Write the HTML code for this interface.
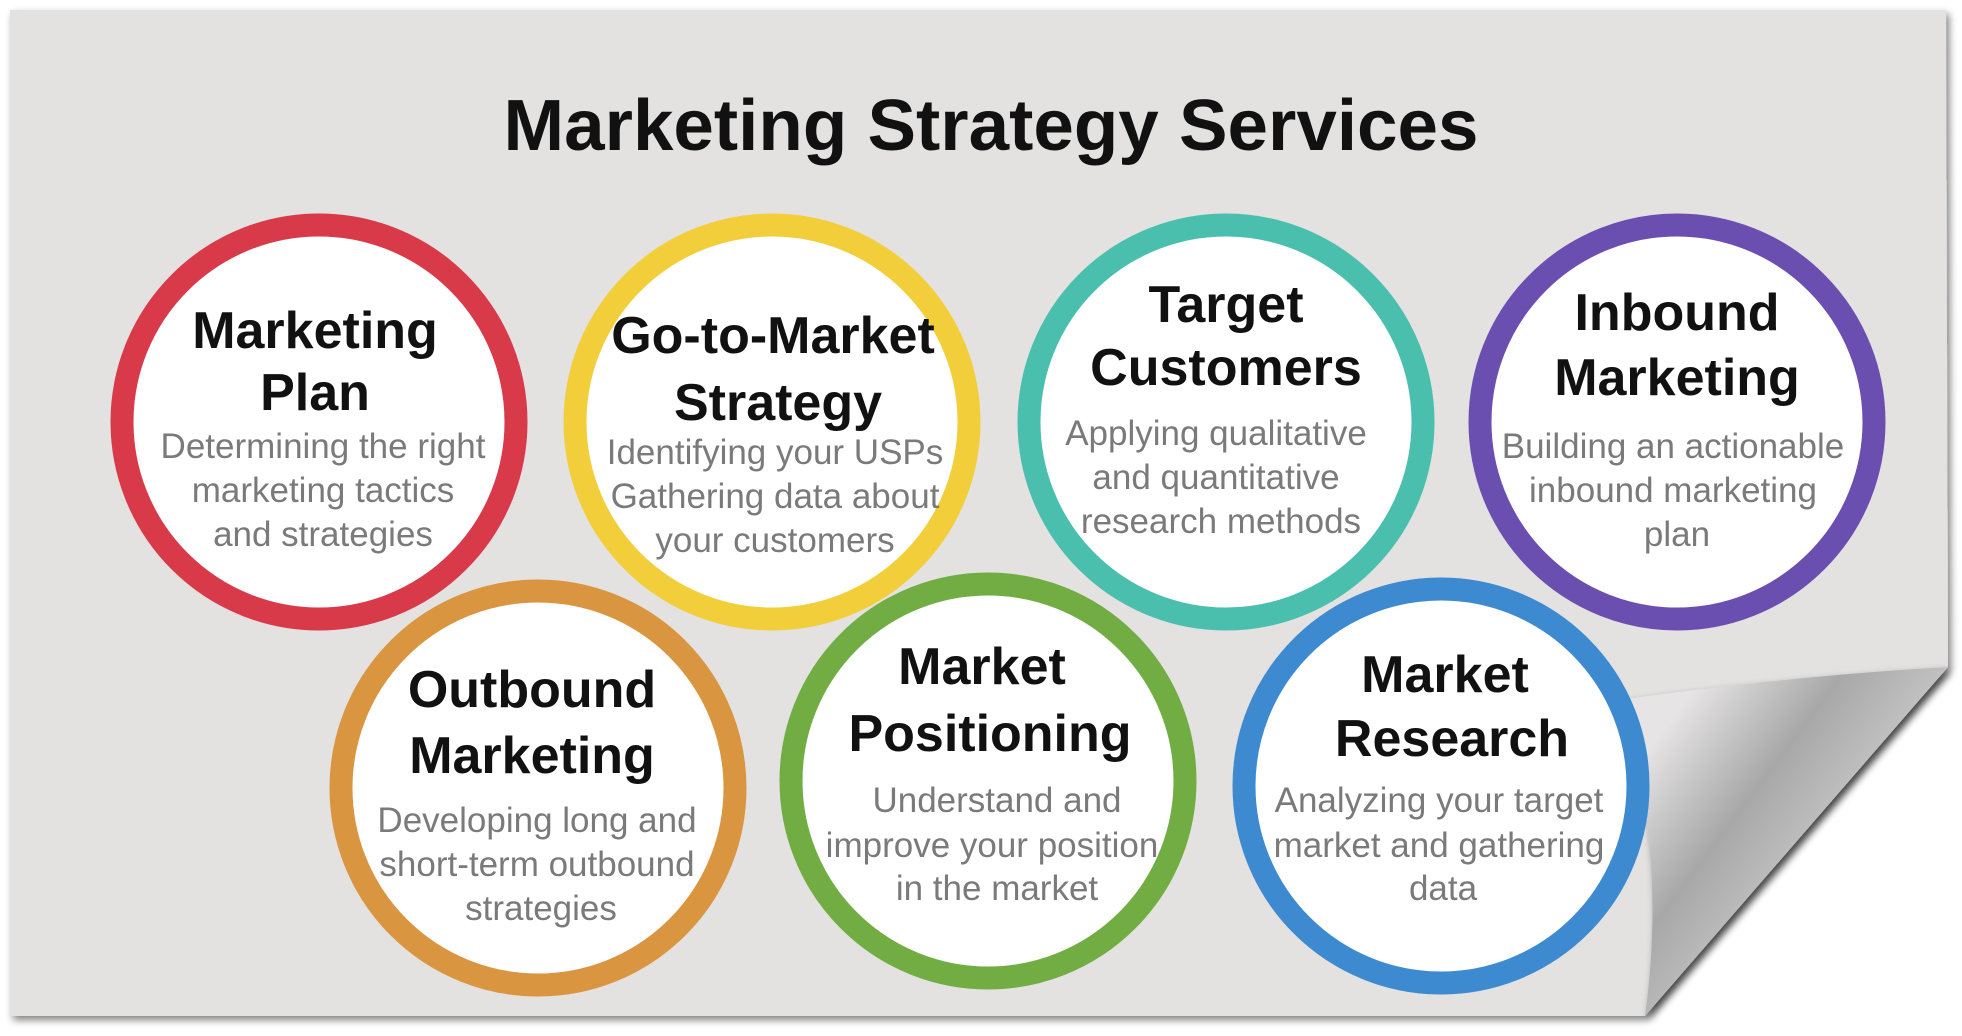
<!DOCTYPE html>
<html><head><meta charset="utf-8"><style>
html,body{margin:0;padding:0;background:#fff;width:1962px;height:1036px;overflow:hidden}
svg{display:block}
.h{font-family:"Liberation Sans",sans-serif;font-weight:bold;font-size:52px;fill:#111;text-anchor:middle}
.b{font-family:"Liberation Sans",sans-serif;font-size:35px;fill:#7a7a7a;text-anchor:middle}
</style></head><body>
<svg width="1962" height="1036" viewBox="0 0 1962 1036">
<defs>
<filter id="sh" x="-5%" y="-5%" width="110%" height="110%"><feGaussianBlur in="SourceAlpha" stdDeviation="4"/><feOffset dx="3" dy="4"/><feComponentTransfer><feFuncA type="linear" slope="0.5"/></feComponentTransfer><feMerge><feMergeNode/><feMergeNode in="SourceGraphic"/></feMerge></filter>
<linearGradient id="cg" x1="1640" y1="760" x2="1800" y2="880" gradientUnits="userSpaceOnUse">
<stop offset="0" stop-color="#e6e4e4"/><stop offset="0.55" stop-color="#a8a8a8"/><stop offset="1" stop-color="#c4c4c4"/></linearGradient>
</defs>
<path d="M10,10 L1946,10 L1948,667 L1645,1016 L10,1016 Z" fill="#e4e1e1" filter="url(#sh)"/>
<path d="M1948,667 Q1790,676 1620,700 Q1668,850 1645,1016 Z" fill="url(#cg)" filter="url(#sh)"/>
<text x="991" y="150" font-family="Liberation Sans,sans-serif" font-weight="bold" font-size="72" fill="#111" text-anchor="middle" textLength="975" lengthAdjust="spacingAndGlyphs">Marketing Strategy Services</text>
<g fill="#fff" stroke-width="23">
<circle cx="319" cy="422" r="197" stroke="#d83a4a"/>
<circle cx="772" cy="422" r="197" stroke="#f2cf3a"/>
<circle cx="1226" cy="422" r="197" stroke="#4bbfae"/>
<circle cx="1677" cy="422" r="197" stroke="#6a4fb0"/>
<circle cx="538" cy="788" r="197" stroke="#d9953f"/>
<circle cx="988" cy="781" r="197" stroke="#72ad44"/>
<circle cx="1441" cy="786" r="197" stroke="#3d8ad0"/>
</g>
<text class="h" x="315" y="348">Marketing</text><text class="h" x="315" y="410">Plan</text>
<text class="b" x="323" y="458">Determining the right</text><text class="b" x="323" y="502">marketing tactics</text><text class="b" x="323" y="546">and strategies</text>

<text class="h" x="773" y="353">Go-to-Market</text><text class="h" x="778" y="420">Strategy</text>
<text class="b" x="775" y="464">Identifying your USPs</text><text class="b" x="775" y="508">Gathering data about</text><text class="b" x="775" y="552">your customers</text>

<text class="h" x="1226" y="322">Target</text><text class="h" x="1226" y="385">Customers</text>
<text class="b" x="1216" y="445">Applying qualitative</text><text class="b" x="1216" y="489">and quantitative</text><text class="b" x="1221" y="533">research methods</text>

<text class="h" x="1677" y="330">Inbound</text><text class="h" x="1677" y="395">Marketing</text>
<text class="b" x="1673" y="458">Building an actionable</text><text class="b" x="1673" y="502">inbound marketing</text><text class="b" x="1677" y="546">plan</text>

<text class="h" x="532" y="707">Outbound</text><text class="h" x="532" y="773">Marketing</text>
<text class="b" x="537" y="832">Developing long and</text><text class="b" x="537" y="876">short-term outbound</text><text class="b" x="541" y="920">strategies</text>

<text class="h" x="982" y="684">Market</text><text class="h" x="990" y="751">Positioning</text>
<text class="b" x="997" y="812">Understand and</text><text class="b" x="992" y="857">improve your position</text><text class="b" x="997" y="900">in the market</text>

<text class="h" x="1445" y="692">Market</text><text class="h" x="1452" y="756">Research</text>
<text class="b" x="1439" y="812">Analyzing your target</text><text class="b" x="1439" y="857">market and gathering</text><text class="b" x="1443" y="900">data</text>
</svg>
</body></html>
